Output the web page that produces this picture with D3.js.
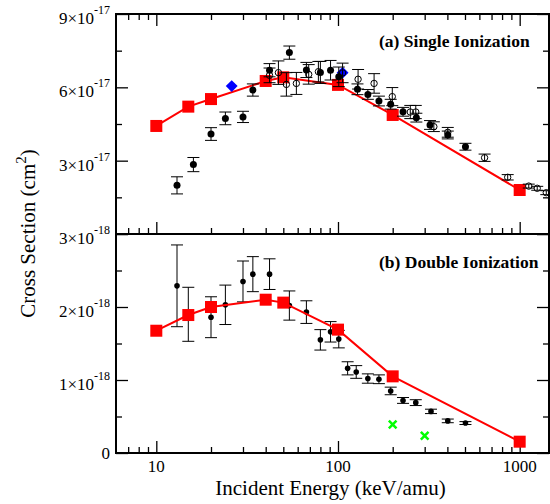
<!DOCTYPE html>
<html>
<head>
<meta charset="utf-8">
<script src="https://cdn.jsdelivr.net/npm/d3@7"></script>
<style>
  body { margin: 0; background: #fff; }
  svg { display: block; }
  svg text { font-family: "Liberation Serif", "DejaVu Serif", serif; }
</style>
</head>
<body>
<svg></svg>
<script>
const width = 550;
const height = 504;

// -----------------------------
// DATA
// -----------------------------
// theory curve (red squares), shared energies
const theoryEnergy = [10, 15, 20, 40, 50, 100, 200, 1000];
const theorySingle = [4.42e-17, 5.21e-17, 5.52e-17, 6.26e-17, 6.41e-17, 6.10e-17, 4.87e-17, 1.80e-17];
const theoryDouble = [1.675e-18, 1.89e-18, 2.00e-18, 2.10e-18, 2.06e-18, 1.69e-18, 1.05e-18, 0.155e-18];

// single ionization, filled circles [energy, sigma, error]
const singleFilled = [
  [13, 1.99e-17, 0.35e-17], [16, 2.84e-17, 0.29e-17], [20, 4.09e-17, 0.26e-17],
  [24, 4.73e-17, 0.26e-17], [30, 4.79e-17, 0.23e-17], [34, 5.89e-17, 0.25e-17],
  [42, 6.70e-17, 0.27e-17], [54, 7.42e-17, 0.27e-17], [67, 6.71e-17, 0.31e-17],
  [80, 6.61e-17, 0.45e-17], [91, 6.70e-17, 0.40e-17], [101, 6.43e-17, 0.40e-17],
  [128, 5.92e-17, 0.22e-17], [146, 5.71e-17, 0.20e-17], [168, 5.44e-17, 0.20e-17],
  [195, 5.31e-17, 0.20e-17], [228, 5.00e-17, 0.18e-17], [270, 4.76e-17, 0.18e-17],
  [321, 4.46e-17, 0.18e-17], [402, 4.05e-17, 0.16e-17], [503, 3.57e-17, 0.14e-17]
];

// single ionization, open circles [energy, sigma, error]
const singleOpen = [
  [42, 6.49e-17, 0.30e-17], [47, 6.60e-17, 0.48e-17], [52, 6.12e-17, 0.48e-17],
  [59, 6.16e-17, 0.45e-17], [69, 6.53e-17, 0.40e-17], [78, 6.64e-17, 0.42e-17],
  [106, 6.59e-17, 0.40e-17], [129, 6.33e-17, 0.40e-17], [158, 6.16e-17, 0.40e-17],
  [199, 5.62e-17, 0.37e-17], [250, 4.99e-17, 0.27e-17], [268, 4.99e-17, 0.27e-17],
  [337, 4.39e-17, 0.20e-17], [402, 4.16e-17, 0.20e-17], [641, 3.12e-17, 0.15e-17],
  [859, 2.32e-17, 0.11e-17], [1122, 1.96e-17, 0.08e-17], [1249, 1.87e-17, 0.08e-17],
  [1401, 1.69e-17, 0.08e-17]
];

// single ionization, blue diamonds [energy, sigma]
const singleDiamond = [[26, 6.05e-17], [106, 6.60e-17]];

// double ionization, filled circles [energy, sigma, error]
const doubleFilled = [
  [13, 2.29e-18, 0.56e-18], [15, 1.90e-18, 0.37e-18], [20, 1.86e-18, 0.28e-18],
  [24, 2.03e-18, 0.27e-18], [30, 2.35e-18, 0.28e-18], [34, 2.45e-18, 0.24e-18],
  [42, 2.45e-18, 0.21e-18], [54, 2.02e-18, 0.20e-18], [67, 1.93e-18, 0.155e-18],
  [80, 1.55e-18, 0.14e-18], [91, 1.66e-18, 0.14e-18], [101, 1.56e-18, 0.12e-18],
  [113, 1.16e-18, 0.09e-18], [126, 1.11e-18, 0.087e-18], [146, 1.02e-18, 0.064e-18],
  [168, 1.01e-18, 0.06e-18], [195, 0.85e-18, 0.052e-18], [228, 0.72e-18, 0.04e-18],
  [268, 0.69e-18, 0.04e-18], [325, 0.57e-18, 0.03e-18], [402, 0.44e-18, 0.025e-18],
  [503, 0.41e-18, 0.02e-18]
];

// double ionization, green crosses [energy, sigma]
const doubleCross = [[200, 0.39e-18], [300, 0.237e-18]];

// ticks
const xTickLabels = [10, 100, 1000];
const xMinorTicks = [7, 8, 9, 20, 30, 40, 50, 60, 70, 80, 90, 200, 300, 400, 500, 600, 700, 800, 900];
const yTopMajor = [0, 3e-17, 6e-17, 9e-17];
const yTopMinor = [1.5e-17, 4.5e-17, 7.5e-17];
const yTopLabels = [["3", "-17"], ["6", "-17"], ["9", "-17"]];
const yBotMajor = [0, 1e-18, 2e-18, 3e-18];
const yBotMinor = [0.5e-18, 1.5e-18, 2.5e-18];
const yBotLabels = [["0", null], ["1", "-18"], ["2", "-18"], ["3", "-18"]];

// -----------------------------
// LAYOUT
// -----------------------------
const plotLeft = 116, plotRight = 549, plotTop = 14, plotMid = 234, plotBottom = 453;

const svg = d3.select("svg")
  .attr("width", width)
  .attr("height", height)
  .attr("font-family", "Liberation Serif, DejaVu Serif, serif");

const x = d3.scaleLog().domain([6, 1450]).range([plotLeft, plotRight]);
const yA = d3.scaleLinear().domain([0, 9e-17]).range([plotMid, plotTop]);
const yB = d3.scaleLinear().domain([0, 3e-18]).range([plotBottom, plotMid]);

// -----------------------------
// AXES (inward ticks)
// -----------------------------
function ticks(g, axis, values, size) {
  g.call(axis.tickValues(values).tickSize(size).tickFormat(""))
    .call(a => a.select(".domain").remove())
    .call(a => a.selectAll("line").attr("stroke", "#000").attr("stroke-width", 1.3));
}

const axes = svg.append("g");
// x ticks
[[plotMid, d3.axisBottom], [plotTop, d3.axisTop], [plotBottom, d3.axisBottom]].forEach(([yy, fn]) => {
  ticks(axes.append("g").attr("transform", `translate(0,${yy})`), fn(x), xTickLabels, -12);
  ticks(axes.append("g").attr("transform", `translate(0,${yy})`), fn(x), xMinorTicks, -6);
});
// y ticks
[[yA, yTopMajor, yTopMinor], [yB, yBotMajor, yBotMinor]].forEach(([ys, maj, mnr]) => {
  ticks(axes.append("g").attr("transform", `translate(${plotLeft},0)`), d3.axisLeft(ys), maj, -12);
  ticks(axes.append("g").attr("transform", `translate(${plotLeft},0)`), d3.axisLeft(ys), mnr, -6);
  ticks(axes.append("g").attr("transform", `translate(${plotRight},0)`), d3.axisRight(ys), maj, -12);
  ticks(axes.append("g").attr("transform", `translate(${plotRight},0)`), d3.axisRight(ys), mnr, -6);
});

// frames
[[plotTop, plotMid], [plotMid, plotBottom]].forEach(([y0, y1]) => {
  svg.append("rect")
    .attr("x", plotLeft).attr("y", y0)
    .attr("width", plotRight - plotLeft).attr("height", y1 - y0)
    .attr("fill", "none").attr("stroke", "#000").attr("stroke-width", 2);
});

// x tick labels
svg.append("g").selectAll("text")
  .data(xTickLabels)
  .join("text")
  .attr("x", d => x(d))
  .attr("y", plotBottom + 19)
  .attr("text-anchor", "middle")
  .attr("font-size", 17)
  .text(d => d);

// y tick labels
function yLabels(values, labels, ys) {
  const t = svg.append("g").selectAll("text")
    .data(values.map((v, i) => ({ v, l: labels[i] })))
    .join("text")
    .attr("x", 110)
    .attr("y", d => ys(d.v) + (d.l[1] ? 10 : 6))
    .attr("text-anchor", "end")
    .attr("font-size", 17);
  t.append("tspan").text(d => d.l[1] ? d.l[0] + "\u00d710" : d.l[0]);
  t.filter(d => d.l[1]).append("tspan")
    .attr("font-size", 12)
    .attr("dy", -10)
    .text(d => d.l[1]);
}
yLabels(yTopMajor.slice(1), yTopLabels, yA);
yLabels(yBotMajor, yBotLabels, yB);

// axis titles
svg.append("text")
  .attr("x", (plotLeft + plotRight) / 2 - 2)
  .attr("y", 495)
  .attr("text-anchor", "middle")
  .attr("font-size", 21)
  .text("Incident Energy (keV/amu)");

const yt = svg.append("text")
  .attr("transform", `translate(35,${(plotTop + plotBottom) / 2}) rotate(-90)`)
  .attr("text-anchor", "middle")
  .attr("font-size", 21);
yt.append("tspan").text("Cross Section (cm");
yt.append("tspan").attr("font-size", 15).attr("dy", -9).text("2");
yt.append("tspan").attr("dy", 9).text(")");

// panel labels
svg.append("text").attr("x", 379).attr("y", 47)
  .attr("font-size", 17.5).attr("font-weight", "bold")
  .text("(a) Single Ionization");
svg.append("text").attr("x", 379).attr("y", 268)
  .attr("font-size", 17.5).attr("font-weight", "bold")
  .text("(b) Double Ionization");

// -----------------------------
// MARKS
// -----------------------------
function errorBars(g, data, ys) {
  const e = g.append("g").attr("stroke", "#000").attr("stroke-width", 1)
    .selectAll("g").data(data).join("g");
  e.append("line")
    .attr("x1", d => x(d[0])).attr("x2", d => x(d[0]))
    .attr("y1", d => ys(d[1] - d[2])).attr("y2", d => ys(d[1] + d[2]));
  e.append("line")
    .attr("x1", d => x(d[0]) - 6).attr("x2", d => x(d[0]) + 6)
    .attr("y1", d => ys(d[1] - d[2])).attr("y2", d => ys(d[1] - d[2]));
  e.append("line")
    .attr("x1", d => x(d[0]) - 6).attr("x2", d => x(d[0]) + 6)
    .attr("y1", d => ys(d[1] + d[2])).attr("y2", d => ys(d[1] + d[2]));
}

function theory(g, values, ys) {
  const pts = theoryEnergy.map((e, i) => [e, values[i]]);
  g.append("path")
    .datum(pts)
    .attr("fill", "none")
    .attr("stroke", "#ff0000")
    .attr("stroke-width", 2)
    .attr("d", d3.line().x(d => x(d[0])).y(d => ys(d[1])));
  g.append("g").selectAll("rect")
    .data(pts)
    .join("rect")
    .attr("x", d => x(d[0]) - 6)
    .attr("y", d => ys(d[1]) - 6)
    .attr("width", 12).attr("height", 12)
    .attr("fill", "#ff0000");
}

// top panel
const gA = svg.append("g");
theory(gA, theorySingle, yA);
gA.append("g").selectAll("path")
  .data(singleDiamond)
  .join("path")
  .attr("d", d3.symbol(d3.symbolDiamond2, 90))
  .attr("transform", d => `translate(${x(d[0])},${yA(d[1])})`)
  .attr("fill", "#0000ff");
errorBars(gA, singleFilled, yA);
errorBars(gA, singleOpen, yA);
gA.append("g").selectAll("circle")
  .data(singleFilled)
  .join("circle")
  .attr("cx", d => x(d[0])).attr("cy", d => yA(d[1]))
  .attr("r", 3.5)
  .attr("fill", "#000");
gA.append("g").selectAll("circle")
  .data(singleOpen)
  .join("circle")
  .attr("cx", d => x(d[0])).attr("cy", d => yA(d[1]))
  .attr("r", 3.2)
  .attr("fill", "none")
  .attr("stroke", "#000")
  .attr("stroke-width", 1);

// bottom panel
const gB = svg.append("g");
errorBars(gB, doubleFilled, yB);
gB.append("g").selectAll("circle")
  .data(doubleFilled)
  .join("circle")
  .attr("cx", d => x(d[0])).attr("cy", d => yB(d[1]))
  .attr("r", 2.8)
  .attr("fill", "#000");
theory(gB, theoryDouble, yB);
gB.append("g").selectAll("path")
  .data(doubleCross)
  .join("path")
  .attr("d", d3.symbol(d3.symbolX, 40))
  .attr("transform", d => `translate(${x(d[0])},${yB(d[1])})`)
  .attr("fill", "none")
  .attr("stroke", "#00ff00")
  .attr("stroke-width", 2.5);
</script>
</body>
</html>
